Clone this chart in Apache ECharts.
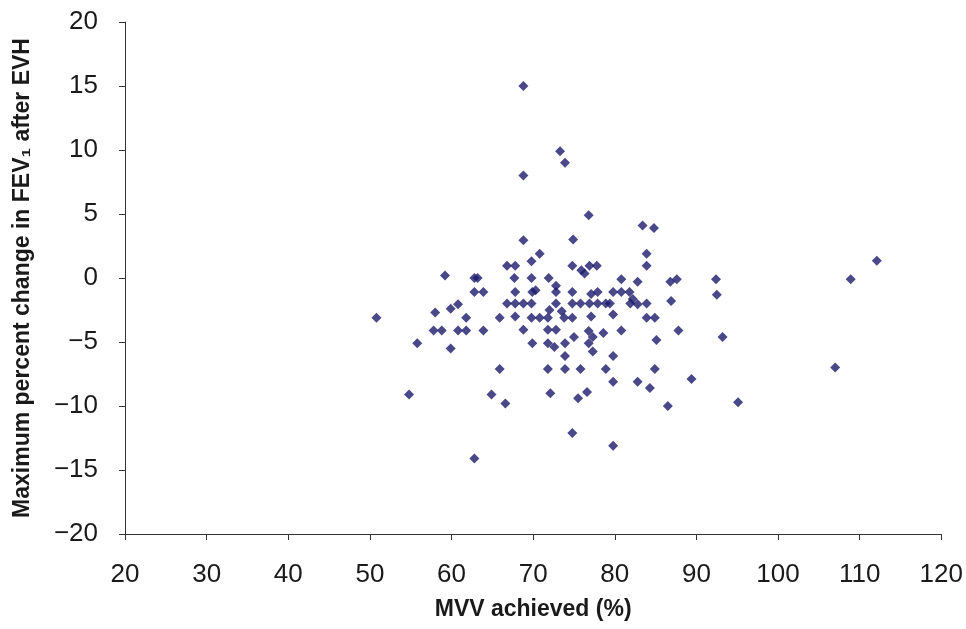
<!DOCTYPE html>
<html>
<head>
<meta charset="utf-8">
<title>MVV vs FEV1 change</title>
<script src="https://cdn.jsdelivr.net/npm/echarts@6/dist/echarts.min.js"></script>
<style>
  html, body { margin: 0; padding: 0; background: #fff; }
  #chart { width: 966px; height: 629px; }
</style>
</head>
<body>
<div id="chart"></div>
<script>
// MVV achieved (%) for each subject
const mvv = [
  50.8, 54.8, 55.8, 57.8, 58.8, 58.0, 59.2, 59.9, 59.9, 60.8,
  60.8, 61.8, 61.8, 62.8, 63.2, 62.8, 63.9, 63.9, 62.8, 64.9,
  65.9, 65.9, 66.6, 66.8, 67.8, 67.7, 67.8, 66.8, 67.8, 68.8,
  69.8, 67.8, 68.8, 68.8, 68.8, 68.8, 69.8, 70.8, 69.8, 69.9,
  70.3, 69.8, 70.8, 71.8, 69.9, 71.9, 72.8, 72.8, 72.8, 72.0,
  73.5, 73.8, 74.8, 71.8, 72.8, 71.8, 72.6, 73.9, 73.9, 71.8,
  73.9, 75.8, 72.1, 75.5, 76.6, 74.8, 79.8, 73.3, 73.9, 76.8,
  74.9, 74.8, 75.9, 76.3, 76.9, 77.8, 74.8, 77.1, 77.9, 79.8,
  80.8, 81.8, 80.8, 82.8, 82.2, 82.8, 74.8, 75.8, 76.9, 77.9,
  78.9, 79.4, 81.9, 83.9, 77.1, 79.8, 83.9, 84.9, 75.0, 76.8,
  77.3, 78.6, 80.8, 76.8, 77.3, 79.8, 78.9, 84.9, 79.8, 82.8,
  84.3, 85.1, 86.5, 83.9, 83.9, 83.4, 84.8, 86.8, 87.6, 86.9,
  87.8, 92.4, 92.5, 93.2, 89.4, 95.1, 107.0, 108.9, 112.1
];
// Maximum percent change in FEV1 after EVH, same order
const fevChange = [
  -3.1, -9.1, -5.1, -4.1, -4.1, -2.7, 0.2, -2.4, -5.5, -2.05,
  -4.1, -3.1, -4.1, 0, 0, -1.1, -1.1, -4.1, -14.1, -9.1,
  -3.1, -7.1, -9.8, 0.95, 0.95, 0, -1.1, -2, -2, -2,
  -2, -3, -4.05, 15, 8, 2.95, 1.3, 1.9, 0, -1.1,
  -0.95, -3.1, -3.1, -3.1, -5.1, 0, -0.6, -1.1, -2, -2.5,
  -2.6, -3.1, -3.1, -4.05, -4.05, -5.1, -5.4, -5.1, -6.1, -7.1,
  -7.1, -7.1, -9, -9.4, -8.9, -12.1, -13.1, 9.9, 9.0, 4.9,
  3.0, 0.95, 0.6, 0.35, 0.95, 0.95, -1.1, -1.25, -1.1, -1.1,
  -1.1, -1.1, -0.1, -0.3, -1.65, -2.05, -2, -2, -2, -2,
  -2, -2, -2, -2, -3, -2.85, -3.1, -3.1, -4.6, -4.15,
  -4.6, -4.3, -4.1, -5.1, -5.75, -6.1, -7.1, -7.1, -8.1, -8.1,
  -8.6, -4.85, -10, 1.9, 0.95, 4.1, 3.9, -0.3, -0.1, -1.8,
  -4.1, -0.1, -1.3, -4.6, -7.9, -9.7, -7.0, -0.1, 1.35
];
const xTicks = [20, 120, 10];
const yTicks = [-20, 20, 5];

const points = mvv.map((x, i) => [x, fevChange[i]]);

const myChart = echarts.init(document.getElementById("chart"));

const font = "'Liberation Sans', Arial, sans-serif";

const axisFont = {
  color: "#1a1a1a",
  fontSize: 26,
  fontFamily: font,
};

myChart.setOption({
  animation: false,
  backgroundColor: "#fff",
  grid: {
    left: 125,
    right: 24,
    top: 22,
    bottom: 95,
  },
  xAxis: {
    type: "value",
    min: xTicks[0],
    max: xTicks[1],
    interval: xTicks[2],
    name: "MVV achieved (%)",
    nameLocation: "middle",
    nameGap: 64,
    nameTextStyle: {
      color: "#1a1a1a",
      fontSize: 23,
      fontWeight: "bold",
      fontFamily: font,
    },
    axisLine: { show: true, onZero: false, lineStyle: { color: "#333", width: 1 } },
    axisTick: { show: true, length: 6, lineStyle: { color: "#333" } },
    axisLabel: { ...axisFont, margin: 28 },
    splitLine: { show: false },
  },
  yAxis: {
    type: "value",
    min: yTicks[0],
    max: yTicks[1],
    interval: yTicks[2],
    name: "Maximum percent change in FEV\u2081 after EVH",
    nameLocation: "middle",
    nameGap: 91,
    nameRotate: 90,
    nameTextStyle: {
      color: "#1a1a1a",
      fontSize: 23,
      fontWeight: "bold",
      fontFamily: font,
    },
    axisLine: { show: true, onZero: false, lineStyle: { color: "#333", width: 1 } },
    axisTick: { show: true, length: 6, lineStyle: { color: "#333" } },
    axisLabel: {
      ...axisFont,
      margin: 27,
      // use a real minus sign like the original
      formatter: (v) => String(v).replace("-", "\u2212"),
    },
    splitLine: { show: false },
  },
  series: [
    {
      type: "scatter",
      symbol: "diamond",
      symbolSize: 10,
      itemStyle: { color: "#1b1a6b" },
      data: points,
    },
  ],
});
</script>
</body>
</html>
